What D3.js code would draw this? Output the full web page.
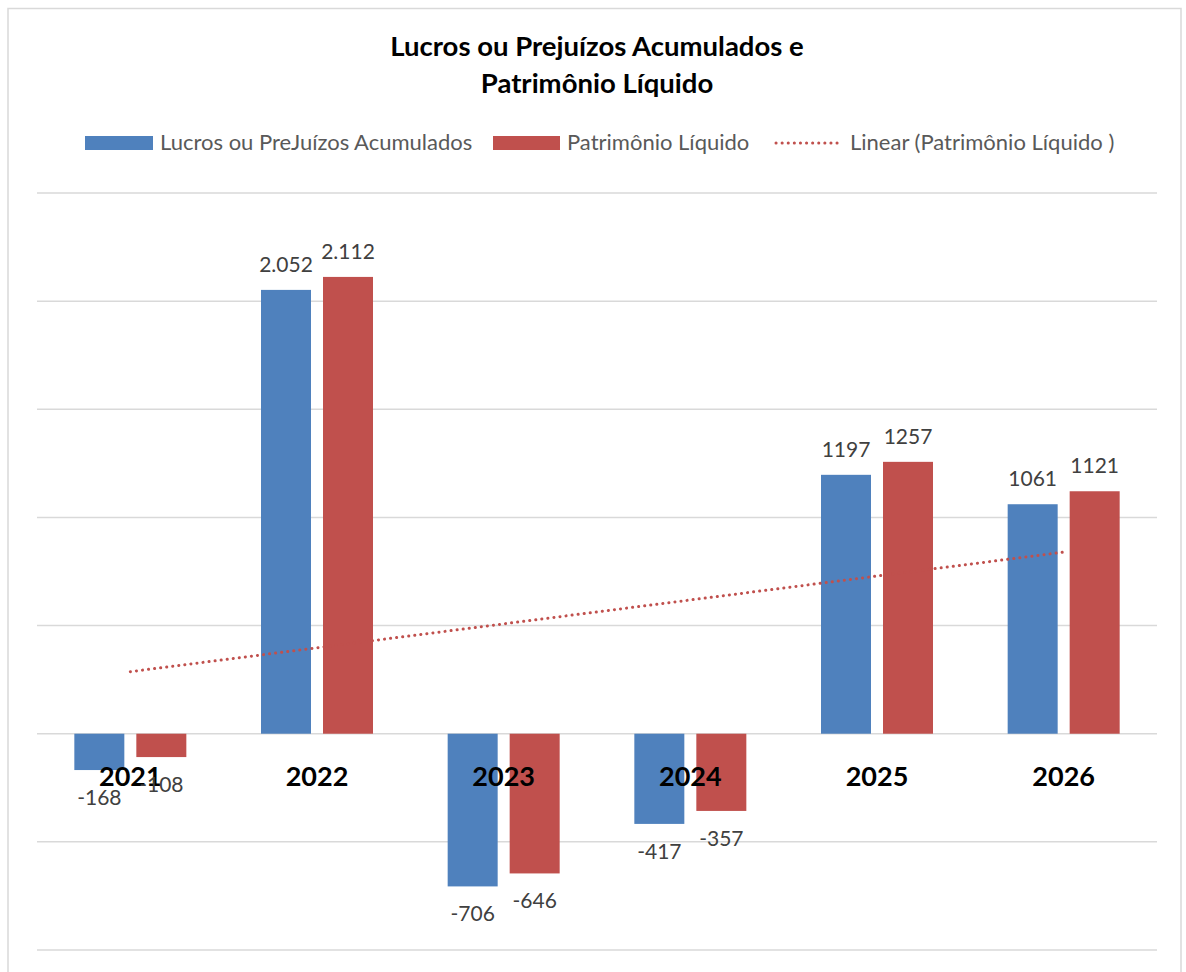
<!DOCTYPE html>
<html>
<head>
<meta charset="utf-8">
<script src="https://cdn.jsdelivr.net/npm/d3@7"></script>
<style>
  body { margin: 0; background: #fff; }
  svg { font-family: Lato, "Open Sans", sans-serif; }
</style>
</head>
<body>
<svg id="chart" width="1186" height="972"></svg>
<script>
const years = ["2021", "2022", "2023", "2024", "2025", "2026"];
const lucros = [-168, 2052, -706, -417, 1197, 1061];
const patrimonio = [-108, 2112, -646, -357, 1257, 1121];
const lucrosLabels = ["-168", "2.052", "-706", "-417", "1197", "1061"];
const patrimonioLabels = ["-108", "2.112", "-646", "-357", "1257", "1121"];
const yTicks = [-1000, -500, 0, 500, 1000, 1500, 2000, 2500];

const BLUE = "#4F81BD";
const RED = "#C0504D";
const GRID = "#D9D9D9";
const LABEL = "#404040";

const svg = d3.select("#chart");

// Chart frame
svg.append("rect")
  .attr("x", 8).attr("y", 8.5)
  .attr("width", 1173).attr("height", 980)
  .attr("fill", "#fff")
  .attr("stroke", GRID).attr("stroke-width", 1.5);

const plot = { left: 37, right: 1157, top: 193, bottom: 950 };

const x = d3.scaleBand().domain(years).range([plot.left, plot.right]);
const y = d3.scaleLinear().domain([-1000, 2500]).range([plot.bottom, plot.top]);

// Gridlines
svg.append("g")
  .selectAll("line")
  .data(yTicks)
  .enter()
  .append("line")
  .attr("x1", plot.left).attr("x2", plot.right)
  .attr("y1", (d) => y(d)).attr("y2", (d) => y(d))
  .attr("stroke", GRID).attr("stroke-width", 1.5);

// Bars
const BAR_W = 50;
const GAP = 12;
const series = [
  { name: "Lucros ou PreJuízos Acumulados", values: lucros, labels: lucrosLabels, color: BLUE, offset: -(GAP / 2 + BAR_W) },
  { name: "Patrimônio Líquido", values: patrimonio, labels: patrimonioLabels, color: RED, offset: GAP / 2 },
];

const center = (yr) => x(yr) + x.bandwidth() / 2;

series.forEach((s) => {
  const g = svg.append("g");
  g.selectAll("rect")
    .data(years)
    .enter()
    .append("rect")
    .attr("x", (yr) => center(yr) + s.offset)
    .attr("width", BAR_W)
    .attr("y", (yr, i) => y(Math.max(0, s.values[i])))
    .attr("height", (yr, i) => Math.abs(y(s.values[i]) - y(0)))
    .attr("fill", s.color);
});

// Category labels
svg.append("g")
  .selectAll("text")
  .data(years)
  .enter()
  .append("text")
  .attr("x", (yr) => center(yr))
  .attr("y", y(0) + 52)
  .attr("text-anchor", "middle")
  .attr("font-size", 27)
  .attr("font-weight", "bold")
  .attr("fill", "#000")
  .text((yr) => yr);

// Value labels
series.forEach((s) => {
  svg.append("g")
    .selectAll("text")
    .data(years)
    .enter()
    .append("text")
    .attr("x", (yr) => center(yr) + s.offset + BAR_W / 2)
    .attr("y", (yr, i) => s.values[i] >= 0 ? y(s.values[i]) - 18 : y(s.values[i]) + 35)
    .attr("text-anchor", "middle")
    .attr("font-size", 21)
    .attr("fill", LABEL)
    .text((yr, i) => s.labels[i]);
});

// Linear trendline (least squares on Patrimônio Líquido)
const xs = years.map((d, i) => i + 1);
const mx = d3.mean(xs);
const my = d3.mean(patrimonio);
const slope = d3.sum(xs, (v, i) => (v - mx) * (patrimonio[i] - my)) / d3.sum(xs, (v) => (v - mx) * (v - mx));
const intercept = my - slope * mx;
const trend = years.map((yr, i) => ({ x: center(yr), y: y(intercept + slope * xs[i]) }));

svg.append("path")
  .attr("d", d3.line().x((d) => d.x).y((d) => d.y)(trend))
  .attr("fill", "none")
  .attr("stroke", RED)
  .attr("stroke-width", 3)
  .attr("stroke-linecap", "round")
  .attr("stroke-dasharray", "0.1 6");

// Title
const title = svg.append("text")
  .attr("text-anchor", "middle")
  .attr("font-size", 27.5)
  .attr("font-weight", "bold")
  .attr("fill", "#000");
title.append("tspan").attr("x", 597).attr("y", 56).text("Lucros ou Prejuízos Acumulados e");
title.append("tspan").attr("x", 597).attr("y", 93).text("Patrimônio Líquido");

// Legend
const legend = svg.append("g").attr("font-size", 22).attr("fill", "#595959");
legend.append("rect").attr("x", 85).attr("y", 136).attr("width", 68).attr("height", 14).attr("fill", BLUE);
legend.append("text").attr("x", 160).attr("y", 150).text(series[0].name);
legend.append("rect").attr("x", 493).attr("y", 136).attr("width", 67).attr("height", 14).attr("fill", RED);
legend.append("text").attr("x", 567).attr("y", 150).text(series[1].name);
legend.append("line")
  .attr("x1", 776).attr("x2", 842).attr("y1", 143).attr("y2", 143)
  .attr("stroke", RED).attr("stroke-width", 3)
  .attr("stroke-linecap", "round").attr("stroke-dasharray", "0.1 6");
legend.append("text").attr("x", 850).attr("y", 150).text("Linear (Patrimônio Líquido )");
</script>
</body>
</html>
